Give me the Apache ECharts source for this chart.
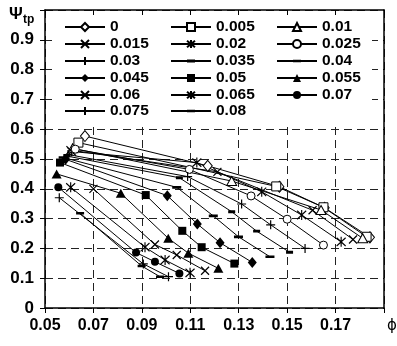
<!DOCTYPE html>
<html><head><meta charset="utf-8">
<script src="https://cdn.jsdelivr.net/npm/echarts@6/dist/echarts.min.js"></script>
<style>html,body{margin:0;padding:0;background:#fff}#c{width:397px;height:346px}</style>
</head><body><div id="c"></div>
<script>
// legend names (parameter values)
const names = ['0','0.005','0.01','0.015','0.02','0.025','0.03','0.035','0.04','0.045','0.05','0.055','0.06','0.065','0.07','0.075','0.08'];
// axis ticks
const xTicks = [0.05,0.07,0.09,0.11,0.13,0.15,0.17,0.19];
const yTicks = [0,0.1,0.2,0.3,0.4,0.5,0.6,0.7,0.8,0.9,1.0];
// series data [phi, psi]
const s000 = [[0.0665,0.577],[0.1172,0.477],[0.1468,0.407],[0.1655,0.336],[0.1842,0.237]];
const s005 = [[0.0638,0.555],[0.1455,0.408],[0.1650,0.338],[0.1828,0.239]];
const s010 = [[0.0614,0.536],[0.1271,0.426],[0.1640,0.329],[0.1812,0.234]];
const s015 = [[0.0605,0.530],[0.1212,0.457],[0.1605,0.328],[0.1772,0.230]];
const s020 = [[0.0610,0.525],[0.1127,0.488],[0.1395,0.390],[0.1560,0.312],[0.1723,0.222]];
const s025 = [[0.0625,0.533],[0.1096,0.465],[0.1351,0.376],[0.1500,0.298],[0.1650,0.211]];
const s030 = [[0.0595,0.515],[0.1089,0.441],[0.1312,0.349],[0.1432,0.279],[0.1574,0.200]];
const s035 = [[0.0590,0.510],[0.1055,0.437],[0.1271,0.323],[0.1374,0.258],[0.1510,0.187]];
const s040 = [[0.0575,0.505],[0.1044,0.405],[0.1195,0.309],[0.1299,0.239],[0.1429,0.172]];
const s045 = [[0.0585,0.499],[0.1005,0.377],[0.1129,0.282],[0.1223,0.219],[0.1356,0.153]];
const s050 = [[0.0562,0.488],[0.0916,0.379],[0.1067,0.259],[0.1147,0.204],[0.1282,0.149]];
const s055 = [[0.0548,0.450],[0.0813,0.385],[0.1009,0.234],[0.1092,0.184],[0.1216,0.133]];
const s060 = [[0.0700,0.400],[0.0954,0.213],[0.1044,0.178],[0.1161,0.125]];
const s065 = [[0.0606,0.405],[0.0913,0.204],[0.0996,0.161],[0.1099,0.118]];
const s070 = [[0.0555,0.405],[0.0876,0.186],[0.0954,0.155],[0.1055,0.116]];
const s075 = [[0.0559,0.370],[0.0906,0.148],[0.1010,0.105]];
const s080 = [[0.0645,0.318],[0.0899,0.141],[0.0975,0.105]];
const allData = [s000,s005,s010,s015,s020,s025,s030,s035,s040,s045,s050,s055,s060,s065,s070,s075,s080];

const CROSS = 'path://M0,0L10,10M10,0L0,10';
const STAR = 'path://M0,1L10,11M10,1L0,11M5,0L5,12';
const PLUS = 'path://M5,0L5,10M0,5L10,5';
// dash symbols: square bounding box, thin bar in the middle
const DASH = 'path://M0,0L0.01,0M10,10L9.99,10M0,3.0L10,3.0L10,7.0L0,7.0Z';
const DASH2 = 'path://M0,0L0.01,0M10,10L9.99,10M0,3.5L10,3.5L10,6.5L0,6.5Z';
const OPEN = {color:'#fff',borderColor:'#000',borderWidth:1};
const FILL = {color:'#000',borderColor:'#000',borderWidth:0};
const STROKE = {color:'#000',borderColor:'#000',borderWidth:1.2};
const marks = [
  ['diamond',[9,11],OPEN],['rect',9,OPEN],['triangle',[10,9],OPEN],[CROSS,8,STROKE],[STAR,[9,10],STROKE],
  ['circle',8,OPEN],[PLUS,9,STROKE],[DASH,7,FILL],[DASH2,9,FILL],['diamond',[9,11],FILL],
  ['rect',8,FILL],['triangle',[10,9],FILL],[CROSS,8,STROKE],[STAR,[9,10],STROKE],['circle',8,FILL],
  [PLUS,9,STROKE],[DASH2,8,FILL]
];

const series = names.map((n,i)=>({
  name:n, type:'line', data:allData[i], symbol:marks[i][0], symbolSize:marks[i][1],
  itemStyle:marks[i][2], lineStyle:{color:'#000',width:1}, showAllSymbol:true, animation:false, z:3
}));

const colX = [64,170,276];
const rowY = [28,45,62,79,96,112];
const legends = names.map((n,i)=>({
  data:[n], left:colX[i%3], top:rowY[Math.floor(i/3)]-9, padding:0, itemWidth:40, itemHeight:10,
  textStyle:{fontFamily:'Liberation Sans',fontWeight:'bold',fontSize:15.5,color:'#000'},
  selectedMode:false, z:5
}));

const lab = {fontFamily:'Liberation Sans',fontWeight:'bold',color:'#000'};
const chart = echarts.init(document.getElementById('c'),null,{renderer:'canvas'});
chart.setOption({
  animation:false,
  grid:{left:45,right:13,top:10,bottom:38},
  legend:legends,
  xAxis:[{
    type:'value', min:xTicks[0], max:xTicks[xTicks.length-1], interval:0.02,
    axisLine:{lineStyle:{color:'#000',width:1.5}},
    axisTick:{show:true,length:5,lineStyle:{color:'#000'}},
    axisLabel:{...lab, fontSize:16, margin:10, formatter:v=>Math.abs(v-0.19)<1e-9?'':v.toFixed(2)},
    splitLine:{show:true,lineStyle:{color:'#222',type:[8,5],width:1}}
  },{
    type:'value', position:'top', min:xTicks[0], max:xTicks[xTicks.length-1], interval:0.02,
    axisLine:{show:true,onZero:false,lineStyle:{color:'#000',width:1.5}},
    axisTick:{show:true,inside:true,length:5,lineStyle:{color:'#000'}},
    axisLabel:{show:false}, splitLine:{show:false}
  }],
  yAxis:[{
    type:'value', min:yTicks[0], max:yTicks[yTicks.length-1], interval:0.1,
    axisLine:{show:true,lineStyle:{color:'#000',width:1.5}},
    axisTick:{show:true,length:5,lineStyle:{color:'#000'}},
    axisLabel:{...lab, fontSize:17, margin:11, formatter:v=>v>0.95?'':(v===0?'0':v.toFixed(1))},
    splitLine:{show:true,lineStyle:{color:'#222',type:[8,5],width:1}}
  },{
    type:'value', position:'right', min:0, max:1, interval:0.1,
    axisLine:{show:true,onZero:false,lineStyle:{color:'#000',width:1.5}},
    axisTick:{show:false}, axisLabel:{show:false}, splitLine:{show:false}
  }],
  graphic:[
    {type:'rect',shape:{x:52,y:15,width:320,height:112},style:{fill:'#fff'},z:1},
    {type:'text',left:9,top:6,style:{text:'Ψ',font:'bold 17px "Liberation Sans"',fill:'#000'},z:10},
    {type:'text',left:23,top:14,style:{text:'tp',font:'bold 12px "Liberation Sans"',fill:'#000'},z:10},
    {type:'text',left:387,top:319,style:{text:'ϕ',font:'15px "DejaVu Sans"',fill:'#000'},z:10}
  ],
  series:series
});
</script></body></html>
